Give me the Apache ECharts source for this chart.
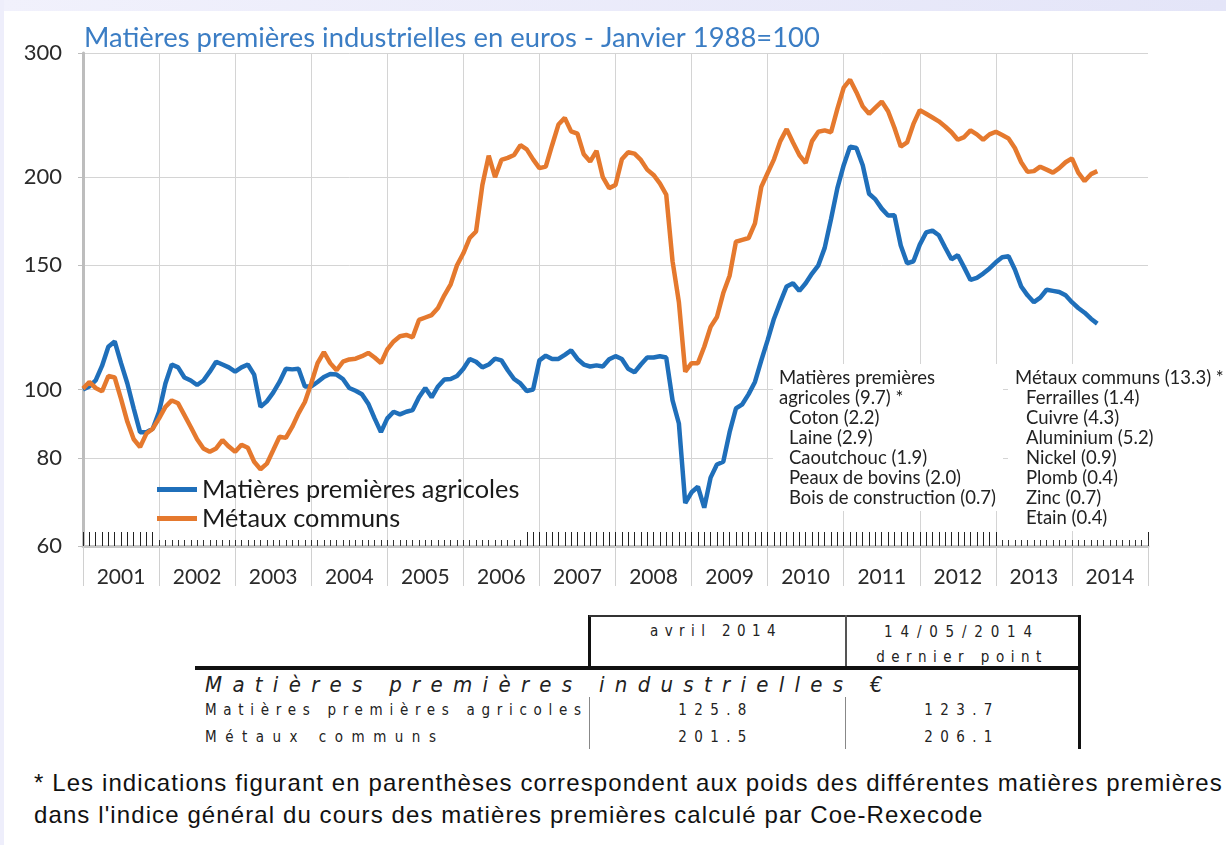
<!DOCTYPE html>
<html>
<head>
<meta charset="utf-8">
<script src="https://cdn.jsdelivr.net/npm/echarts@6.0.0/dist/echarts.min.js"></script>
<style>
  html, body { margin: 0; padding: 0; }
  body { width: 1226px; height: 845px; position: relative; overflow: hidden;
         background: #fff; font-family: "Liberation Sans", Arial, sans-serif; }
  .band-top { position: absolute; left: 0; top: 0; width: 1226px; height: 11px;
              background: linear-gradient(to right, #f1f1fc, #e4e5f8); }
  .band-left { position: absolute; left: 0; top: 0; width: 4px; height: 845px; background: #eeeefb; }
  #chart { position: absolute; left: 0; top: 0; width: 1226px; height: 600px; }
  .ln { position: absolute; background: #111; }
  .t { position: absolute; font-family: "Liberation Sans Narrow", "DejaVu Sans Condensed", "Liberation Sans", sans-serif;
       color: #222; white-space: nowrap; line-height: 1; font-size: 15px; }
  .c { transform: translateX(-50%); }
  .note { position: absolute; left: 34px; top: 767px; font-size: 24px; letter-spacing: 1.1px; line-height: 32px; color: #111;
          font-family: "Liberation Sans", Arial, sans-serif; white-space: nowrap; }
</style>
</head>
<body>
<div class="band-top"></div>
<div class="band-left"></div>
<div id="chart"></div>

<!-- table under the chart -->
<div class="ln" style="left:588px; top:615px; width:3px; height:53px;"></div>
<div class="ln" style="left:589px; top:615px; width:492px; height:2px; background:#333;"></div>
<div class="ln" style="left:845px; top:615px; width:2px; height:53px; background:#555;"></div>
<div class="ln" style="left:1078px; top:615px; width:3px; height:134px;"></div>
<div class="ln" style="left:195px; top:666px; width:886px; height:4px;"></div>
<div class="ln" style="left:589px; top:697px; width:1px; height:52px; background:#888;"></div>
<div class="ln" style="left:845px; top:697px; width:1px; height:52px; background:#888;"></div>

<div class="t c" style="left:716px; top:624px; letter-spacing:6.4px;">avril 2014</div>
<div class="t c" style="left:962px; top:625px; letter-spacing:7.8px;">14/05/2014</div>
<div class="t c" style="left:962px; top:650px; letter-spacing:6.5px;">dernier point</div>
<div class="t" style="left:205px; top:674px; font-size:22px; letter-spacing:10.3px; font-style:italic;">Matières premières industrielles €</div>
<div class="t" style="left:205px; top:703px; letter-spacing:6.7px;">Matières premières agricoles</div>
<div class="t c" style="left:716px; top:703px; letter-spacing:7.4px;">125.8</div>
<div class="t c" style="left:962px; top:703px; letter-spacing:7.4px;">123.7</div>
<div class="t" style="left:205px; top:730px; letter-spacing:8.5px;">Métaux communs</div>
<div class="t c" style="left:716px; top:730px; letter-spacing:7.4px;">201.5</div>
<div class="t c" style="left:962px; top:730px; letter-spacing:7.4px;">206.1</div>

<div class="note">* Les indications figurant en parenthèses correspondent aux poids des différentes matières premières<br>dans l'indice général du cours des matières premières calculé par Coe-Rexecode</div>

<script>
// monthly index values, Jan 2001 -> May 2014 (base Jan 1988 = 100)
const startYear = 2001;
const yearLabels = ['2001', '2002', '2003', '2004', '2005', '2006', '2007',
  '2008', '2009', '2010', '2011', '2012', '2013', '2014'];
const yTicks = [60, 80, 100, 150, 200, 300];

const agriName = 'Matières premières agricoles';
const metauxName = 'Métaux communs';

const agriValues = [
  100, 101, 103, 108, 115, 117, 109, 102, 94, 87, 87, 88,                   // 2001
  93, 102, 108.5, 107.5, 104, 103, 101.5, 103, 106, 109.5, 108.5, 107.5,    // 2002
  106, 107.5, 108.5, 105, 94.5, 96.2, 99, 102.5, 107, 106.8, 107, 101,      // 2003
  101, 102.5, 104.2, 105.2, 105, 103.5, 100.5, 99.6, 98.5, 95.5, 91, 87,    // 2004
  91, 93, 92.2, 93, 93.5, 97.5, 100.5, 97.5, 101, 103.3, 103.5, 104.5,      // 2005
  107, 110.5, 109.5, 107.5, 108.5, 110.6, 110, 106.5, 103.5, 102, 99.5, 100, // 2006
  110, 111.7, 110.5, 110.5, 112, 113.6, 110.5, 108.5, 107.8, 108.2, 107.8, 110.4, // 2007
  111.5, 110.5, 107, 105.8, 108.5, 111, 111, 111.5, 111, 96.5, 89.5, 69,    // 2008
  71.5, 72.8, 68, 75, 78.3, 79, 87, 94, 95.3, 98.5, 102.5, 110,             // 2009
  117.5, 126, 133, 140, 141.5, 138, 141.5, 146, 150, 158.8, 174.5, 193,     // 2010
  208, 221, 220, 208, 189.5, 186, 180.5, 176.5, 176.6, 160, 151, 152,       // 2011
  160.5, 167, 168, 165.5, 159, 153, 155, 149, 143, 144, 146, 148.5,         // 2012
  151.5, 154, 154.5, 148, 140, 136, 133, 135, 138.5, 138, 137.5, 136,       // 2013
  133, 130.5, 128.5, 126, 124                                               // 2014
];

const metauxValues = [
  100.3, 102.5, 100.5, 99.4, 104.5, 104, 97, 90, 85, 82.9, 86.6, 88,        // 2001
  91, 94.5, 96.5, 95.6, 92, 88.5, 85, 82.5, 81.6, 82.5, 84.8, 83,           // 2002
  81.6, 83.5, 82.7, 79, 77.1, 78.5, 82, 85.7, 85.4, 88.5, 92.5, 96,         // 2003
  102, 109, 113, 109, 106.5, 109.5, 110.3, 110.6, 111.5, 112.7, 111, 109,   // 2004
  114, 117, 119, 119.5, 118.6, 125.5, 126.5, 127.5, 130.5, 136, 141, 150,   // 2005
  156, 164, 167.5, 195, 214.6, 200, 211.6, 213, 215, 222, 219, 212,         // 2006
  206, 207, 222, 237.5, 242.7, 232.3, 230.5, 215.5, 210.5, 218, 200, 193,   // 2007
  195, 212, 217, 216, 211.6, 205, 201.5, 196, 189, 152, 133, 106,           // 2008
  109, 109, 115, 122.7, 126.7, 137, 145, 162, 163, 164, 172, 193.8,         // 2009
  202.8, 212, 225, 234, 224, 215, 209.5, 225, 232, 233, 231.6, 250,         // 2010
  268, 275, 264, 252, 246, 251, 256, 248, 235, 221, 224, 238,               // 2011
  249, 246, 243, 240, 236, 231.6, 226, 228, 233, 230, 226, 230,             // 2012
  232, 229.5, 227, 220, 210, 203.5, 204, 207, 205, 203, 206, 210,           // 2013
  212.7, 203, 197.5, 202, 204                                               // 2014
];

const agriNotes = ['Matières premières', 'agricoles (9.7) *', 'Coton (2.2)', 'Laine (2.9)',
  'Caoutchouc (1.9)', 'Peaux de bovins (2.0)', 'Bois de construction (0.7)'];
const metauxNotes = ['Métaux communs (13.3) *', 'Ferrailles (1.4)', 'Cuivre (4.3)',
  'Aluminium (5.2)', 'Nickel (0.9)', 'Plomb (0.4)', 'Zinc (0.7)', 'Etain (0.4)'];

const BLUE = '#1f6fba';
const ORANGE = '#e5792e';
const FONT = 'Lato, "Open Sans", sans-serif';

const toPoints = vals => vals.map((v, i) => [startYear + i / 12, v]);

// month categories for the small tick marks along the bottom
const months = [];
yearLabels.forEach(y => { for (let m = 1; m <= 12; m++) months.push(y + '-' + m); });
const isTall = i => i < 12 || (i >= 70 && i <= 144);

const noteText = (lines, x0, indent, y0, firstIndented) => lines.map((s, i) => ({
  type: 'text',
  x: i < firstIndented ? x0 : x0 + indent,
  y: y0 + i * 20,
  z: 20,
  style: { text: s, fontSize: 18.5, fontFamily: FONT, fill: '#222', verticalAlign: 'middle' }
}));

const chart = echarts.init(document.getElementById('chart'));

chart.setOption({
  animation: false,
  textStyle: { fontFamily: FONT },
  title: {
    text: 'Matières premières industrielles en euros - Janvier 1988=100',
    left: 84,
    top: 25,
    padding: 0,
    textStyle: { color: '#3b7dc4', fontSize: 27.4, fontWeight: 'normal', fontFamily: FONT }
  },
  legend: {
    left: 157,
    top: 477,
    orient: 'vertical',
    icon: 'rect',
    itemWidth: 40,
    itemHeight: 5,
    itemGap: 4,
    padding: 0,
    textStyle: { fontSize: 25.3, color: '#1a1a1a', fontFamily: FONT },
    data: [agriName, metauxName]
  },
  grid: { left: 83, top: 53, width: 1065, height: 493 },
  xAxis: [
    {
      type: 'value', min: 2001, max: 2015, interval: 1,
      axisLine: { show: false }, axisTick: { show: false }, axisLabel: { show: false },
      splitLine: { show: true, showMinLine: false, showMaxLine: false, lineStyle: { color: '#d4d4d4', width: 1 } }
    },
    {
      type: 'category', data: yearLabels, position: 'bottom', boundaryGap: true,
      axisLine: { show: true, lineStyle: { color: '#c6c6c6', width: 3 } },
      axisTick: { show: true, interval: 0, length: 40, lineStyle: { color: '#d0d0d0', width: 1 } },
      axisLabel: { interval: 0, fontSize: 21, color: '#2a2a2a', margin: 21, fontFamily: FONT },
      splitLine: { show: false }
    },
    {
      type: 'category', data: months, position: 'bottom', boundaryGap: true,
      axisLine: { show: false }, axisLabel: { show: false }, splitLine: { show: false },
      axisTick: { show: true, inside: true, length: 14, interval: i => isTall(i), lineStyle: { color: '#222', width: 1 } }
    },
    {
      type: 'category', data: months, position: 'bottom', boundaryGap: true,
      axisLine: { show: false }, axisLabel: { show: false }, splitLine: { show: false },
      axisTick: { show: true, inside: true, length: 6, interval: i => !isTall(i), lineStyle: { color: '#333', width: 1 } }
    }
  ],
  yAxis: {
    type: 'log', logBase: 10, min: 60, max: 300,
    axisLine: { show: true, lineStyle: { color: '#bdbdbd', width: 3 } },
    axisTick: { show: true, length: 5, customValues: yTicks, lineStyle: { color: '#bdbdbd' } },
    axisLabel: { customValues: yTicks, fontSize: 22, color: '#2a2a2a', margin: 21, fontFamily: FONT },
    splitLine: { show: true, lineStyle: { color: '#d4d4d4', width: 1 } }
  },
  series: [
    {
      name: agriName, type: 'line', xAxisIndex: 0, data: toPoints(agriValues),
      symbol: 'none', lineStyle: { color: BLUE, width: 4.5 }, itemStyle: { color: BLUE }, z: 3
    },
    {
      name: metauxName, type: 'line', xAxisIndex: 0, data: toPoints(metauxValues),
      symbol: 'none', lineStyle: { color: ORANGE, width: 4.5 }, itemStyle: { color: ORANGE }, z: 4
    }
  ],
  graphic: [
    { type: 'rect', z: 15, shape: { x: 773, y: 364, width: 230, height: 147 }, style: { fill: '#fff' } },
    { type: 'rect', z: 15, shape: { x: 1008, y: 364, width: 218, height: 167 }, style: { fill: '#fff' } }
  ].concat(noteText(agriNotes, 779, 10, 378, 2), noteText(metauxNotes, 1015, 11, 378, 1))
});
</script>
</body>
</html>
